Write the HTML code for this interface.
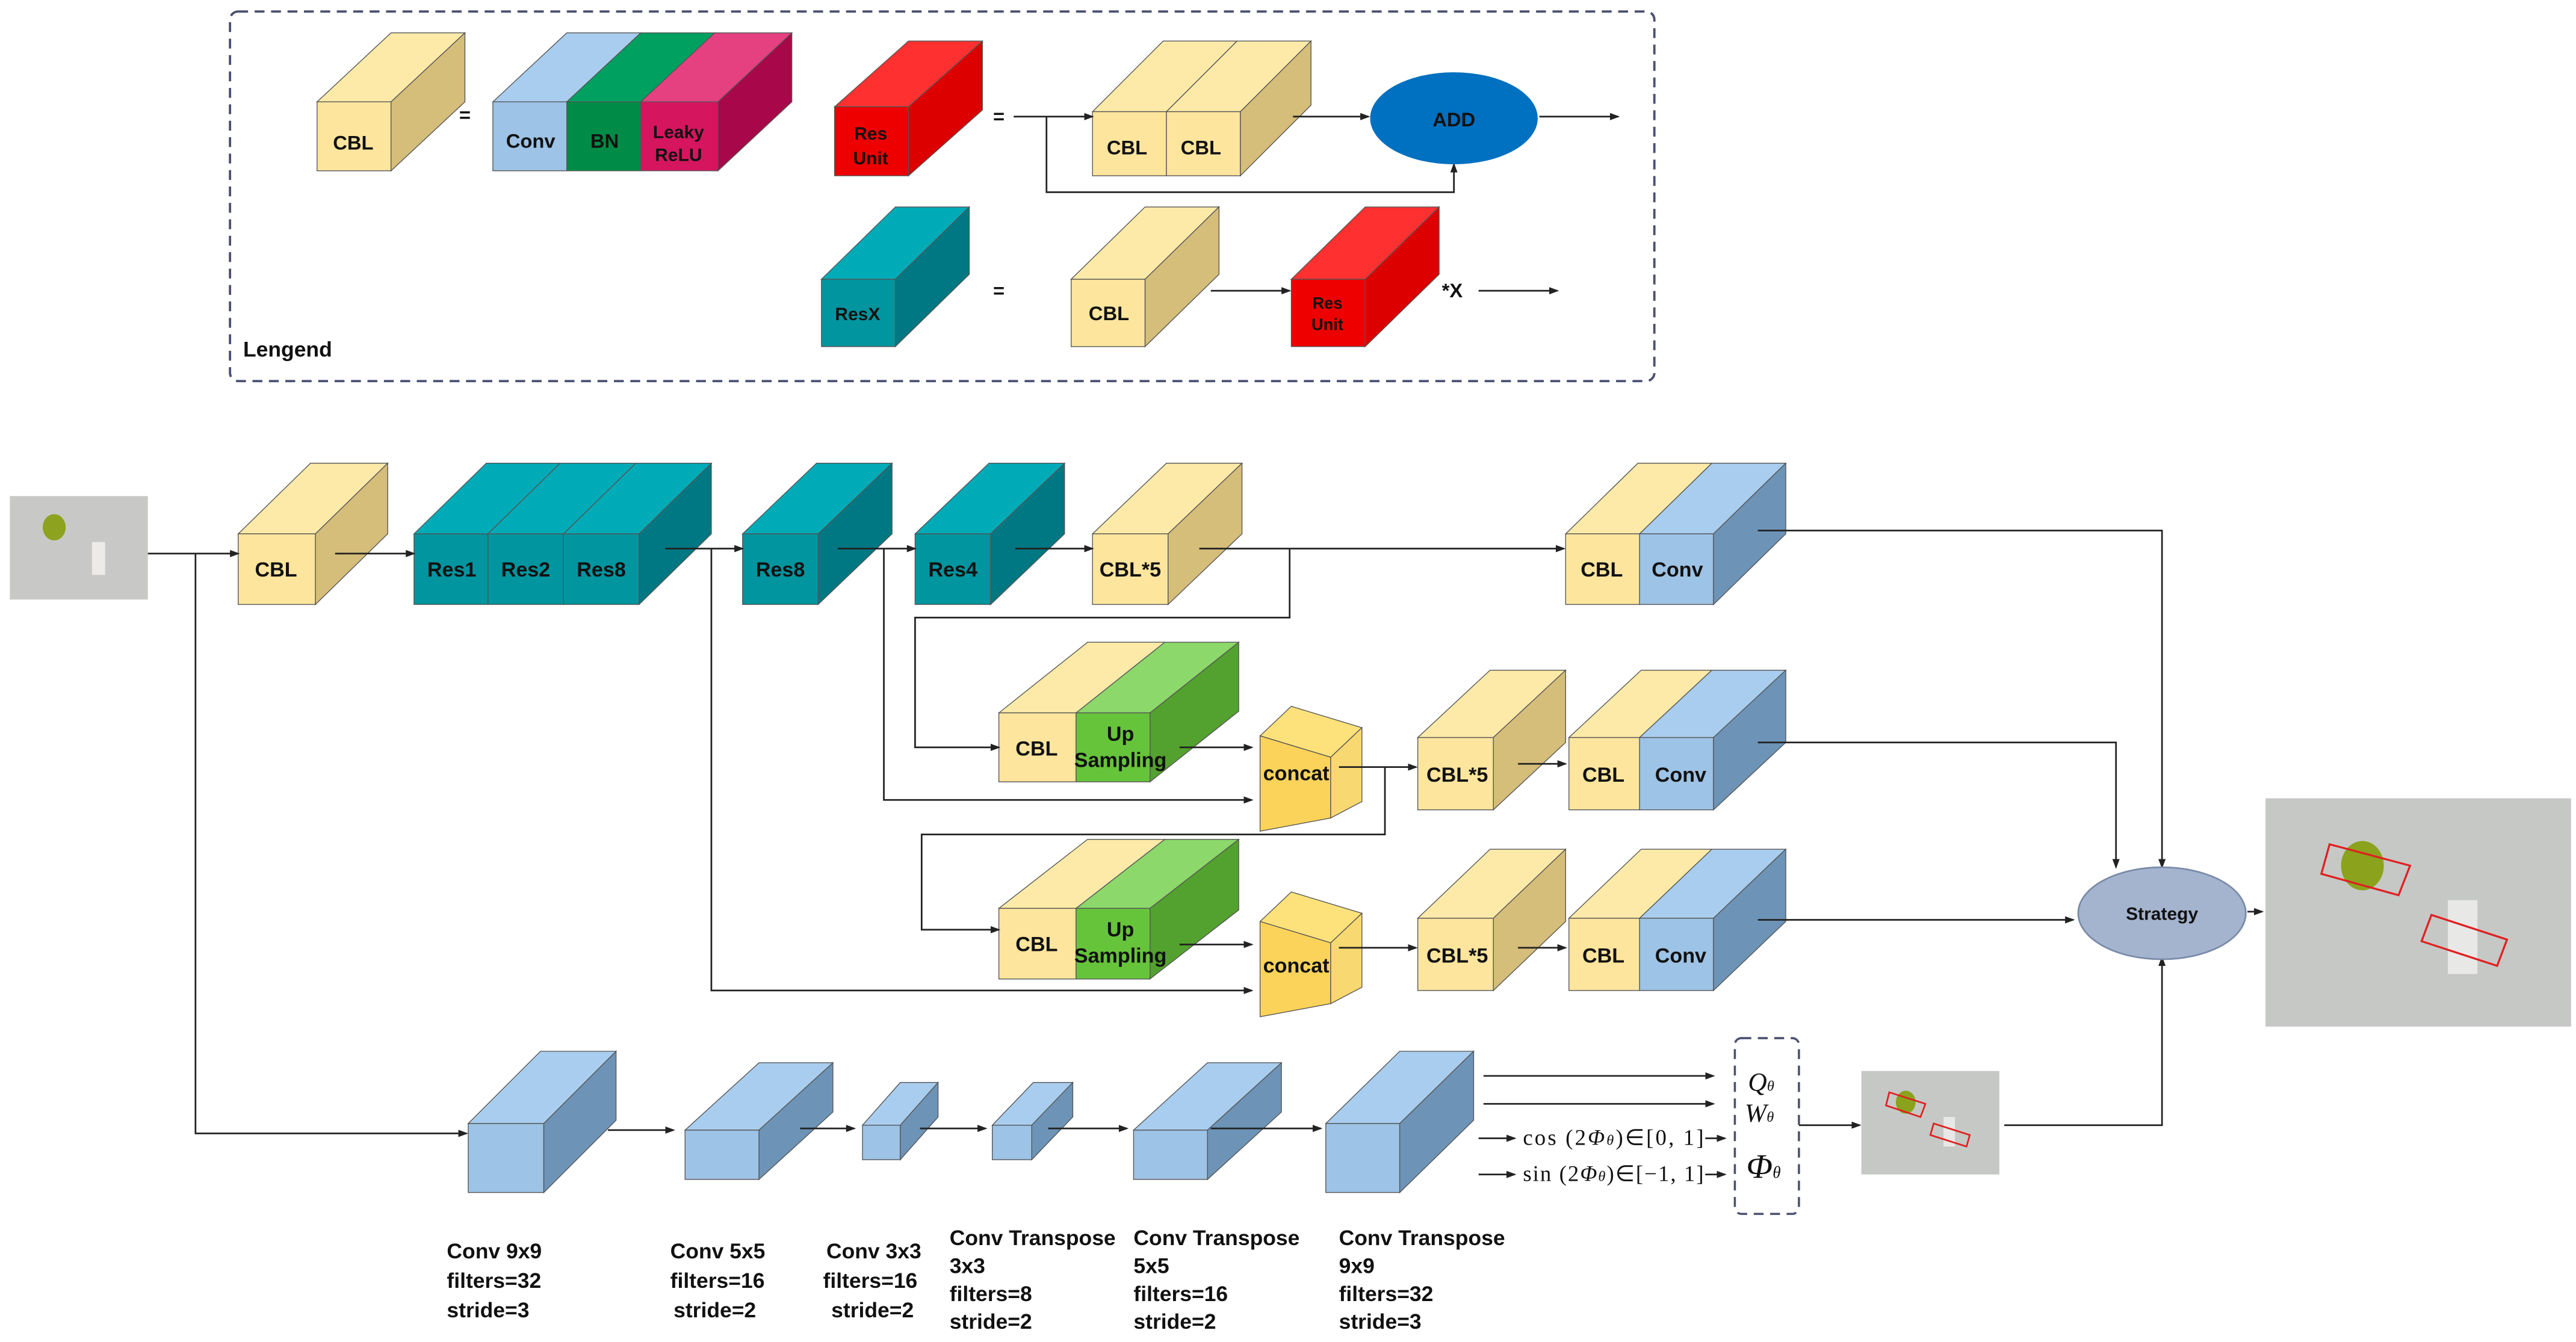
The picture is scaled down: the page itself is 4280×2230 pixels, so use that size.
<!DOCTYPE html>
<html><head><meta charset="utf-8"><style>
html,body{margin:0;padding:0;background:#fff;}
svg{display:block;}
text{font-family:"Liberation Sans",sans-serif;font-weight:bold;fill:#111;}
.m{font-family:"Liberation Serif",serif;font-weight:normal;font-style:italic;}
.s{font-family:"Liberation Serif",serif;font-weight:normal;}
</style></head><body>
<svg id="sv" width="4280" height="2230" viewBox="0 0 1568 817" preserveAspectRatio="none" xmlns="http://www.w3.org/2000/svg">
<defs><marker id="a" markerWidth="6" markerHeight="6" refX="5" refY="3" orient="auto" markerUnits="userSpaceOnUse"><path d="M0,0.8 L6,3 L0,5.2z" fill="#222"/></marker></defs>
<rect width="1568" height="817" fill="#fff"/>
<rect x="140" y="7" width="867" height="225" rx="5" fill="none" stroke="#4a5070" stroke-width="1.4" stroke-dasharray="6,4"/>
<g id="shapes"></g>
<g fill="none" stroke="#222" stroke-width="1" marker-end="url(#a)">
<path d="M617,71 H665"/><path d="M787,71 H833"/><path d="M937,71 H985"/>
<path d="M637,71 V117 H885 V100"/>
<path d="M737,177 H785"/><path d="M900,177 H948"/>
<path d="M90,337 H145"/><path d="M204,337 H252"/><path d="M405,334 H452"/><path d="M510,334 H557"/><path d="M618,334 H665"/>
<path d="M730,334 H952"/>
<path d="M1070,323 H1316 V528"/>
<path d="M785,334 V376 H557 V455 H608"/>
<path d="M718,455 H762"/>
<path d="M538,334 V487 H762"/>
<path d="M815,467 H862"/>
<path d="M843,467 V508 H561 V566 H608"/>
<path d="M924,465 H953"/>
<path d="M1070,452 H1288 V528"/>
<path d="M718,575 H762"/>
<path d="M433,334 V603 H762"/>
<path d="M815,577 H862"/>
<path d="M924,577 H953"/>
<path d="M1070,560 H1262"/>
<path d="M1368,555 H1377"/>
<path d="M119,337 V690 H284"/>
<path d="M370,688 H410"/><path d="M487,687 H520"/><path d="M560,687 H600"/><path d="M638,687 H686"/><path d="M737,687 H804"/>
<path d="M903,655 H1043"/><path d="M903,672 H1043"/><path d="M900,693 H922"/><path d="M900,715 H922"/>
<path d="M1038,693 H1050"/><path d="M1038,715 H1050"/>
<path d="M1095,685 H1132"/>
<path d="M1220,685 H1316 V583"/>
</g>
<ellipse cx="885" cy="72" rx="51" ry="28" fill="#0070c0"/>
<text x="885" y="77" font-size="12" text-anchor="middle">ADD</text>
<ellipse cx="1316" cy="556" rx="51" ry="28" fill="#a4b4cf" stroke="#7a8aa8"/>
<text x="1316" y="560" font-size="11" text-anchor="middle">Strategy</text>
<rect x="1056" y="632" width="39" height="107" rx="4" fill="none" stroke="#4a5070" stroke-width="1.3" stroke-dasharray="6,4"/>
<rect x="6" y="302" width="84" height="63" fill="#c8c9c6"/>
<ellipse cx="33" cy="321" rx="7" ry="8" fill="#8da21e"/>
<rect x="56" y="330" width="8" height="20" fill="#ecebe8"/>
<rect x="1379" y="486" width="186" height="139" fill="#c6c8c6"/>
<ellipse cx="1438" cy="527" rx="13" ry="15" fill="#8aa21c"/>
<rect x="1490" y="548" width="18" height="45" fill="#e8e8e6"/>
<g fill="none" stroke="#e02020" stroke-width="1.2"><path d="M1418,514 L1467,527 L1460,545 L1413,532z"/><path d="M1480,557 L1526,572 L1520,588 L1474,573z"/></g>
<rect x="1133" y="652" width="84" height="63" fill="#c6c8c6"/>
<ellipse cx="1160" cy="671" rx="6" ry="7" fill="#8aa21c"/>
<rect x="1183" y="680" width="7" height="18" fill="#e8e8e6"/>
<g fill="none" stroke="#e02020" stroke-width="1"><path d="M1150,665 L1172,672 L1169,680 L1148,673z"/><path d="M1177,684 L1199,691 L1197,698 L1175,691z"/></g>
<g font-size="12">
<text x="215" y="91" text-anchor="middle">CBL</text>
<text x="323" y="90" text-anchor="middle">Conv</text>
<text x="368" y="90" text-anchor="middle">BN</text>
<text x="413" y="84" text-anchor="middle" font-size="11">Leaky</text>
<text x="413" y="98" text-anchor="middle" font-size="11">ReLU</text>
<text x="530" y="85" text-anchor="middle" font-size="11">Res</text>
<text x="530" y="100" text-anchor="middle" font-size="11">Unit</text>
<text x="608" y="75" text-anchor="middle">=</text>
<text x="686" y="94" text-anchor="middle">CBL</text>
<text x="731" y="94" text-anchor="middle">CBL</text>
<text x="522" y="195" text-anchor="middle" font-size="11">ResX</text>
<text x="608" y="181" text-anchor="middle">=</text>
<text x="675" y="195" text-anchor="middle">CBL</text>
<text x="808" y="188" text-anchor="middle" font-size="10">Res</text>
<text x="808" y="201" text-anchor="middle" font-size="10">Unit</text>
<text x="884" y="181" text-anchor="middle">*X</text>
<text x="148" y="217" font-size="13">Lengend</text>
<text x="283" y="74" text-anchor="middle">=</text>
</g>
<g font-size="12.5" text-anchor="middle">
<text x="168" y="351">CBL</text>
<text x="275" y="351">Res1</text>
<text x="320" y="351">Res2</text>
<text x="366" y="351">Res8</text>
<text x="475" y="351">Res8</text>
<text x="580" y="351">Res4</text>
<text x="688" y="351">CBL*5</text>
<text x="975" y="351">CBL</text>
<text x="1021" y="351">Conv</text>
<text x="631" y="460">CBL</text>
<text x="682" y="451">Up</text>
<text x="682" y="467">Sampling</text>
<text x="789" y="475">concat</text>
<text x="887" y="476">CBL*5</text>
<text x="976" y="476">CBL</text>
<text x="1023" y="476">Conv</text>
<text x="631" y="579">CBL</text>
<text x="682" y="570">Up</text>
<text x="682" y="586">Sampling</text>
<text x="789" y="592">concat</text>
<text x="887" y="586">CBL*5</text>
<text x="976" y="586">CBL</text>
<text x="1023" y="586">Conv</text>
</g>
<g font-size="13">
<text x="272" y="766">Conv 9x9</text><text x="272" y="784">filters=32</text><text x="272" y="802">stride=3</text>
<text x="408" y="766">Conv 5x5</text><text x="408" y="784">filters=16</text><text x="410" y="802">stride=2</text>
<text x="503" y="766">Conv 3x3</text><text x="501" y="784">filters=16</text><text x="506" y="802">stride=2</text>
<text x="578" y="758">Conv Transpose</text><text x="578" y="775">3x3</text><text x="578" y="792">filters=8</text><text x="578" y="809">stride=2</text>
<text x="690" y="758">Conv Transpose</text><text x="690" y="775">5x5</text><text x="690" y="792">filters=16</text><text x="690" y="809">stride=2</text>
<text x="815" y="758">Conv Transpose</text><text x="815" y="775">9x9</text><text x="815" y="792">filters=32</text><text x="815" y="809">stride=3</text>
</g>
<text class="s" x="927" y="697" font-size="13.5" textLength="110">cos (2<tspan font-style="italic">Φ</tspan><tspan font-size="9" font-style="italic">θ</tspan>)∈[0, 1]</text>
<text class="s" x="927" y="719" font-size="13.5" textLength="110">sin (2<tspan font-style="italic">Φ</tspan><tspan font-size="9" font-style="italic">θ</tspan>)∈[−1, 1]</text>
<text class="m" x="1064" y="664" font-size="16">Q<tspan font-size="9">θ</tspan></text>
<text class="m" x="1062" y="683" font-size="16">W<tspan font-size="9">θ</tspan></text>
<text class="m" x="1063" y="717" font-size="21">Φ<tspan font-size="10">θ</tspan></text>
</svg>
<script>
var g=document.getElementById('shapes'),NS='http://www.w3.org/2000/svg';
function P(pts,f){var p=document.createElementNS(NS,'polygon');p.setAttribute('points',pts.map(function(a){return a.join(',')}).join(' '));p.setAttribute('fill',f);p.setAttribute('stroke','#555');p.setAttribute('stroke-width','0.5');g.appendChild(p);}
var C={y:['#fde59d','#fdeaa8','#d5bd7a'],t:['#00959f','#00abb8','#007883'],r:['#ee0000','#ff3030','#dd0000'],b:['#9dc3e6','#a9cdee','#6d94b7'],g:['#66c43a','#8cd86a','#53a12e'],n:['#008c46','#00a060','#007040'],k:['#d6155f','#e54080','#a8084a']};
function box(x,y,h,dx,dy,segs){var cx=x;segs.forEach(function(s){var w=s[1],c=C[s[0]];P([[cx,y],[cx+dx,y-dy],[cx+w+dx,y-dy],[cx+w,y]],c[1]);P([[cx,y],[cx+w,y],[cx+w,y+h],[cx,y+h]],c[0]);cx+=w;});var c=C[segs[segs.length-1][0]];P([[cx,y],[cx+dx,y-dy],[cx+dx,y+h-dy],[cx,y+h]],c[2]);}
box(193,62,42,45,42,[['y',45]]);
box(300,62,42,45,42,[['b',45],['n',45],['k',47]]);
box(508,65,42,45,40,[['r',45]]);
box(665,68,39,43,43,[['y',45],['y',45]]);
box(500,170,41,45,44,[['t',45]]);
box(652,170,41,45,44,[['y',45]]);
box(786,170,41,45,44,[['r',45]]);
box(145,325,43,44,43,[['y',47]]);
box(252,325,43,44,43,[['t',45],['t',46],['t',46]]);
box(452,325,43,45,43,[['t',46]]);
box(557,325,43,45,43,[['t',46]]);
box(665,325,43,45,43,[['y',46]]);
box(953,325,43,44,43,[['y',45],['b',45]]);
box(608,434,42,54,43,[['y',47],['g',45]]);
box(863,449,44,44,41,[['y',46]]);
box(955,449,44,44,41,[['y',43],['b',45]]);
box(608,553,43,54,42,[['y',47],['g',45]]);
box(863,559,44,44,42,[['y',46]]);
box(955,559,44,44,42,[['y',43],['b',45]]);
function cc(y){P([[767,y+10],[810,y+23],[829,y+5],[786,y-8]],'#fde17a');P([[767,y+10],[810,y+23],[810,y+60],[767,y+68]],'#fcd35a');P([[810,y+23],[829,y+5],[829,y+50],[810,y+60]],'#f8d870');}
cc(438);cc(551);
box(285,684,42,44,44,[['b',46]]);
box(417,688,30,45,41,[['b',45]]);
box(525,685,21,23,26,[['b',23]]);
box(604,685,21,25,26,[['b',24]]);
box(690,688,30,45,41,[['b',45]]);
box(807,684,42,45,44,[['b',45]]);
</script>
</body></html>
